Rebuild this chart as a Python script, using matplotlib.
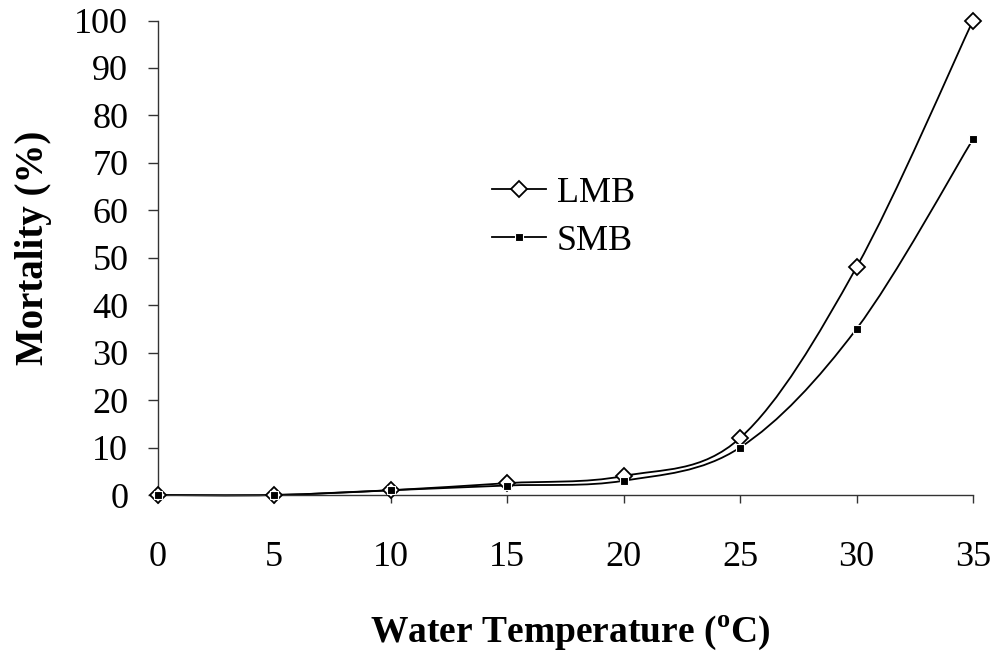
import matplotlib

matplotlib.use("Agg")
import matplotlib.pyplot as plt
from matplotlib.path import Path
from matplotlib.patches import PathPatch
from matplotlib.lines import Line2D

temps = [0, 5, 10, 15, 20, 25, 30, 35]
lmb = [0, 0, 1, 2.5, 4, 12, 48, 100]
smb = [0, 0, 1, 2, 3, 10, 35, 75]
series_names = ["LMB", "SMB"]
x_ticks = [0, 5, 10, 15, 20, 25, 30, 35]
y_ticks = [0, 10, 20, 30, 40, 50, 60, 70, 80, 90, 100]

plt.rcParams["font.family"] = ["Liberation Serif", "DejaVu Serif"]
plt.rcParams["mathtext.fontset"] = "custom"
plt.rcParams["mathtext.rm"] = "Liberation Serif"
plt.rcParams["mathtext.bf"] = "Liberation Serif:bold"


def smooth_path(xs, ys):
    # excel-like smoothed line: catmull-rom segments as cubic beziers
    pts = list(zip(xs, ys))
    verts = [pts[0]]
    codes = [Path.MOVETO]
    n = len(pts)
    for i in range(n - 1):
        p0 = pts[i - 1] if i > 0 else pts[i]
        p1 = pts[i]
        p2 = pts[i + 1]
        p3 = pts[i + 2] if i + 2 < n else pts[i + 1]
        c1 = (p1[0] + (p2[0] - p0[0]) / 6, p1[1] + (p2[1] - p0[1]) / 6)
        c2 = (p2[0] - (p3[0] - p1[0]) / 6, p2[1] - (p3[1] - p1[1]) / 6)
        verts += [c1, c2, p2]
        codes += [Path.CURVE4] * 3
    return Path(verts, codes)


fig = plt.figure(figsize=(9.97, 6.6), dpi=100)
fig.patch.set_facecolor("white")
ax = fig.add_axes([157.5 / 997, 1 - 495 / 660, (973 - 157.5) / 997, (495 - 20.5) / 660])
ax.set_xlim(0, 35)
ax.set_ylim(0, 100)

for ys in (lmb, smb):
    ax.add_patch(PathPatch(smooth_path(temps, ys), facecolor="none",
                           edgecolor="black", lw=1.3, clip_on=False, zorder=2))

ax.plot(temps, lmb, ls="none", marker="D", ms=8, mfc="white", mec="black",
        mew=1.3, clip_on=False, zorder=3)
ax.plot(temps, smb, ls="none", marker="s", ms=6, mfc="black", mec="white",
        mew=0.8, clip_on=False, zorder=4)

for side in ("top", "right"):
    ax.spines[side].set_visible(False)
for side in ("left", "bottom"):
    ax.spines[side].set_color("#333333")
    ax.spines[side].set_linewidth(1.0)

ax.set_xticks(x_ticks)
ax.set_yticks(y_ticks)
ax.tick_params(axis="y", direction="out", length=7, width=1, color="#333333",
               pad=14, labelsize=26)
ax.tick_params(axis="x", direction="out", length=6, width=1, color="#333333",
               pad=27, labelsize=26)

handles = [
    Line2D([], [], color="black", lw=1.3, marker="D", ms=8, mfc="white", mec="black", mew=1.3),
    Line2D([], [], color="black", lw=1.3, marker="s", ms=6, mfc="black", mec="white", mew=0.8),
]
ax.legend(handles, series_names, loc="center", bbox_to_anchor=(0.565, 0.671),
          bbox_transform=fig.transFigure, frameon=False, fontsize=26,
          handlelength=1.5, handletextpad=0.3, labelspacing=0.4)

fig.text(33 / 997, 1 - 248 / 660, "Mortality (%)", rotation=90, ha="center",
         va="center", fontsize=28, fontweight="bold")
fig.text(570 / 997, 1 - 633 / 660, r"Water Temperature ($^{\mathbf{o}}$C)",
         ha="center", va="center", fontsize=27, fontweight="bold")

fig.savefig("out.png", dpi=100)
